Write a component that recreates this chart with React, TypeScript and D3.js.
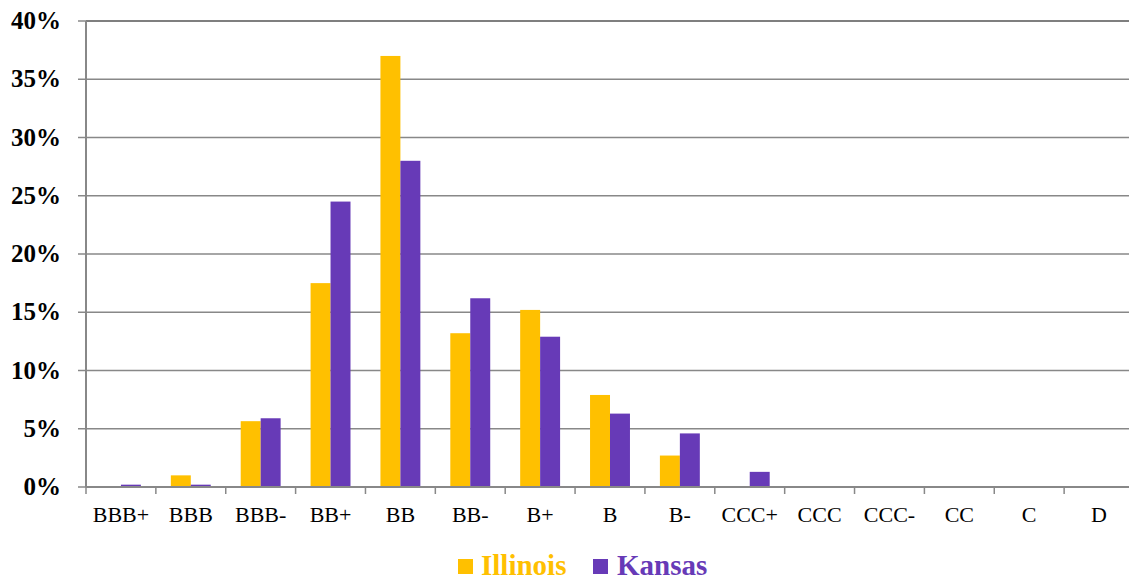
import React from "react";
import * as d3 from "d3";

const categories = ["BBB+", "BBB", "BBB-", "BB+", "BB", "BB-", "B+", "B", "B-", "CCC+", "CCC", "CCC-", "CC", "C", "D"];
const illinois = [0, 1.0, 5.65, 17.5, 37.0, 13.2, 15.2, 7.9, 2.7, 0, 0, 0, 0, 0, 0];
const kansas = [0.2, 0.2, 5.9, 24.5, 28.0, 16.2, 12.9, 6.3, 4.6, 1.3, 0, 0, 0, 0, 0];
const yTicks = [0, 5, 10, 15, 20, 25, 30, 35, 40];
const seriesNames = ["Illinois", "Kansas"];
const colors = ["#FFC000", "#673AB7"];

export default function App() {
  const W = 1129, H = 581;
  const left = 86, right = 1134, top = 21, bottom = 487;
  const x = d3.scaleBand<string>().domain(categories).range([left, right]).paddingInner(0).paddingOuter(0);
  const y = d3.scaleLinear().domain([0, 40]).range([bottom, top]);
  const bw = x.bandwidth();
  const barW = bw * 0.2857;
  const series = [illinois, kansas];
  const serif = "'Liberation Serif', 'Times New Roman', serif";
  return (
    <svg width={W} height={H} style={{ position: "absolute", left: 0, top: 0 }} fontFamily={serif}>
      <rect width={W} height={H} fill="#fff" />
      {yTicks.map((t) => (
        <g key={t}>
          {t > 0 && <line x1={left} x2={right} y1={y(t)} y2={y(t)} stroke={t === 40 ? "#555" : "#888"} strokeWidth={1.5} />}
          <line x1={left - 8} x2={left} y1={y(t)} y2={y(t)} stroke="#888" strokeWidth={1.5} />
          <text x={61} y={y(t) + 8} textAnchor="end" fontWeight="bold" fontSize={25} fill="#000">{t}%</text>
        </g>
      ))}
      {categories.map((c, i) => (
        <g key={c}>
          {series.map((s, k) => {
            const v = s[i];
            if (v <= 0) return null;
            const x0 = (x(c) as number) + bw / 2 - barW + k * barW;
            return <rect key={k} x={x0} y={y(v)} width={barW} height={y(0) - y(v)} fill={colors[k]} />;
          })}
          <text x={(x(c) as number) + bw / 2} y={522} textAnchor="middle" fontSize={22} fill="#000">{c}</text>
        </g>
      ))}
      {categories.concat(["_end"]).map((c, i) => (
        <line key={"t" + i} x1={left + i * bw} x2={left + i * bw} y1={bottom} y2={bottom + 7} stroke="#888" strokeWidth={1.5} />
      ))}
      <line x1={left} x2={left} y1={top} y2={bottom} stroke="#888" strokeWidth={2} />
      <line x1={left} x2={right} y1={bottom} y2={bottom} stroke="#888" strokeWidth={2} />
      <g>
        <rect x={458} y={559} width={15} height={15} fill={colors[0]} />
        <text x={481} y={575} fontSize={29} fontWeight="bold" fill={colors[0]}>{seriesNames[0]}</text>
        <rect x={593} y={559} width={15} height={15} fill={colors[1]} />
        <text x={617} y={575} fontSize={29} fontWeight="bold" fill={colors[1]}>{seriesNames[1]}</text>
      </g>
    </svg>
  );
}
